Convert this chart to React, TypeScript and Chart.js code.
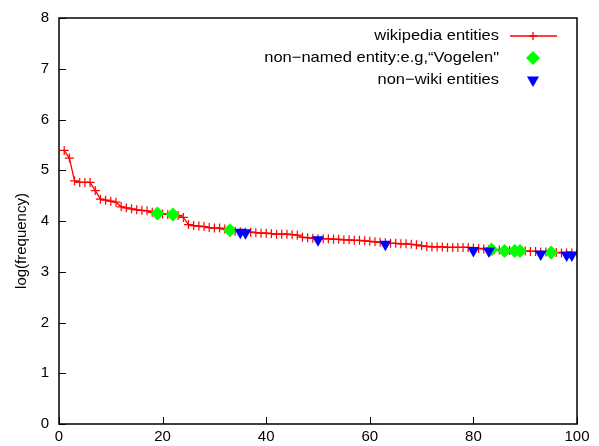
import React, { useEffect, useRef } from "react";
import { Chart, registerables } from "chart.js";

Chart.register(...registerables);

// log(frequency) of wikipedia entities, ranked 1..100
const wikiY = [
  5.39, 5.24, 4.79, 4.76, 4.76, 4.76, 4.6, 4.43, 4.41, 4.39,
  4.37, 4.28, 4.26, 4.24, 4.22, 4.21, 4.2, 4.17, 4.15, 4.14,
  4.13, 4.12, 4.11, 4.07, 3.93, 3.91, 3.9, 3.89, 3.87, 3.86,
  3.86, 3.84, 3.82, 3.8, 3.79, 3.78, 3.78, 3.77, 3.76, 3.76,
  3.75, 3.74, 3.74, 3.74, 3.73, 3.72, 3.68, 3.67, 3.66, 3.65,
  3.65, 3.65, 3.64, 3.64, 3.63, 3.63, 3.62, 3.62, 3.61, 3.6,
  3.59, 3.58, 3.57, 3.56, 3.56, 3.55, 3.55, 3.54, 3.53, 3.51,
  3.5, 3.49, 3.49, 3.49, 3.48, 3.48, 3.48, 3.48, 3.48, 3.47,
  3.46, 3.45, 3.44, 3.43, 3.43, 3.42, 3.42, 3.41, 3.41, 3.41,
  3.4, 3.4, 3.39, 3.39, 3.38, 3.38, 3.37, 3.37, 3.37, 3.36,
];

const nonNamedX = [19, 22, 33, 83.5, 86, 88, 89, 95];
const nonNamedY = [4.15, 4.13, 3.82, 3.44, 3.41, 3.41, 3.41, 3.38];

const nonWikiX = [35, 36, 50, 63, 80, 83, 93, 98, 99];
const nonWikiY = [3.78, 3.77, 3.63, 3.54, 3.42, 3.41, 3.35, 3.33, 3.33];

const xTicks = [0, 20, 40, 60, 80, 100];
const yTicks = [0, 1, 2, 3, 4, 5, 6, 7, 8];

const legendLabels = [
  "wikipedia entities",
  "non\u2212named entity:e.g,\u201CVogelen\"",
  "non\u2212wiki entities",
];
const yTitle = "log(frequency)";

const RED = "#ff0000";
const GREEN = "#00ff00";
const BLUE = "#0000ff";
const FONT = "'Liberation Sans', Arial, Helvetica, sans-serif";

const W = 599;
const H = 446;

function drawCross(ctx: CanvasRenderingContext2D, x: number, y: number, r: number) {
  ctx.beginPath();
  ctx.moveTo(x - r, y);
  ctx.lineTo(x + r, y);
  ctx.moveTo(x, y - r);
  ctx.lineTo(x, y + r);
  ctx.stroke();
}

export default function App() {
  const ref = useRef<HTMLCanvasElement>(null);

  useEffect(() => {
    document.body.style.margin = "0";
    const canvas = ref.current;
    if (!canvas) return;

    const framePlugin = {
      id: "gpFrame",
      afterDraw(chart: any) {
        const { ctx, chartArea } = chart;
        const { left, right, top, bottom } = chartArea;
        const xs = chart.scales.x;
        const ys = chart.scales.y;
        ctx.save();
        ctx.strokeStyle = "#000";
        ctx.lineWidth = 1.5;
        ctx.strokeRect(left, top, right - left, bottom - top);
        ctx.lineWidth = 1;
        ctx.beginPath();
        for (const t of xTicks) {
          const px = Math.round(xs.getPixelForValue(t)) + 0.5;
          ctx.moveTo(px, bottom);
          ctx.lineTo(px, bottom - 7);
        }
        for (const t of yTicks) {
          const py = Math.round(ys.getPixelForValue(t)) + 0.5;
          ctx.moveTo(left, py);
          ctx.lineTo(left + 7, py);
        }
        ctx.stroke();

        // tick labels
        ctx.fillStyle = "#000";
        ctx.font = `15px ${FONT}`;
        ctx.textBaseline = "middle";
        ctx.textAlign = "center";
        for (const t of xTicks) {
          ctx.fillText(String(t), xs.getPixelForValue(t), bottom + 13);
        }
        ctx.textAlign = "right";
        for (const t of yTicks) {
          ctx.fillText(String(t), left - 10, ys.getPixelForValue(t));
        }

        // y axis title
        ctx.textAlign = "center";
        ctx.translate(22, 241);
        ctx.rotate(-Math.PI / 2);
        ctx.fillText(yTitle, 0, 0);
        ctx.restore();

        // legend
        ctx.save();
        ctx.font = `15px ${FONT}`;
        ctx.fillStyle = "#000";
        ctx.textAlign = "right";
        ctx.textBaseline = "middle";
        const rowsY = [36, 58, 80];
        const textRight = 499;
        const sx = 533;
        legendLabels.forEach((lab, i) => {
          ctx.save();
          ctx.translate(textRight, rowsY[i]);
          ctx.scale(1.1, 1);
          ctx.fillText(lab, 0, 0);
          ctx.restore();
        });
        // red sample
        ctx.strokeStyle = RED;
        ctx.lineWidth = 1.3;
        ctx.beginPath();
        ctx.moveTo(510, rowsY[0]);
        ctx.lineTo(557, rowsY[0]);
        ctx.stroke();
        drawCross(ctx, sx, rowsY[0], 4);
        // green diamond
        ctx.fillStyle = GREEN;
        ctx.beginPath();
        ctx.moveTo(sx - 7, rowsY[1]);
        ctx.lineTo(sx, rowsY[1] - 7);
        ctx.lineTo(sx + 7, rowsY[1]);
        ctx.lineTo(sx, rowsY[1] + 7);
        ctx.closePath();
        ctx.fill();
        // blue triangle
        const r = 7;
        ctx.fillStyle = BLUE;
        ctx.beginPath();
        ctx.moveTo(sx, rowsY[2] + r);
        ctx.lineTo(sx - r * 0.866, rowsY[2] - r / 2);
        ctx.lineTo(sx + r * 0.866, rowsY[2] - r / 2);
        ctx.closePath();
        ctx.fill();
        ctx.restore();
      },
    };

    const chart = new Chart(canvas, {
      type: "scatter",
      data: {
        datasets: [
          {
            label: legendLabels[2],
            data: nonWikiX.map((x, i) => ({ x, y: nonWikiY[i] })),
            pointStyle: "triangle",
            rotation: 180,
            radius: 7,
            backgroundColor: BLUE,
            borderColor: BLUE,
            borderWidth: 0,
            order: 0,
          },
          {
            label: legendLabels[1],
            data: nonNamedX.map((x, i) => ({ x, y: nonNamedY[i] })),
            pointStyle: "rectRot",
            radius: 7,
            backgroundColor: GREEN,
            borderColor: GREEN,
            borderWidth: 0,
            order: 1,
          },
          {
            label: legendLabels[0],
            data: wikiY.map((y, i) => ({ x: i + 1, y })),
            showLine: true,
            borderColor: RED,
            backgroundColor: RED,
            borderWidth: 1.3,
            pointStyle: "cross",
            radius: 4.5,
            pointBorderWidth: 1.2,
            order: 2,
          } as any,
        ],
      },
      options: {
        responsive: false,
        animation: false,
        events: [],
        layout: { padding: { top: 18, right: 22, left: 0, bottom: 0 } },
        plugins: {
          legend: { display: false },
          tooltip: { enabled: false },
        },
        scales: {
          x: {
            type: "linear",
            min: 0,
            max: 100,
            afterFit: (s: any) => {
              s.height = 22;
            },
            grid: { display: false },
            border: { display: false },
            ticks: { display: false },
          },
          y: {
            type: "linear",
            min: 0,
            max: 8,
            afterFit: (s: any) => {
              s.width = 59;
            },
            grid: { display: false },
            border: { display: false },
            ticks: { display: false },
          },
        },
      },
      plugins: [framePlugin],
    });

    return () => chart.destroy();
  }, []);

  return (
    <div style={{ width: W, height: H }}>
      <canvas ref={ref} width={W} height={H} style={{ display: "block", width: W, height: H }} />
    </div>
  );
}
